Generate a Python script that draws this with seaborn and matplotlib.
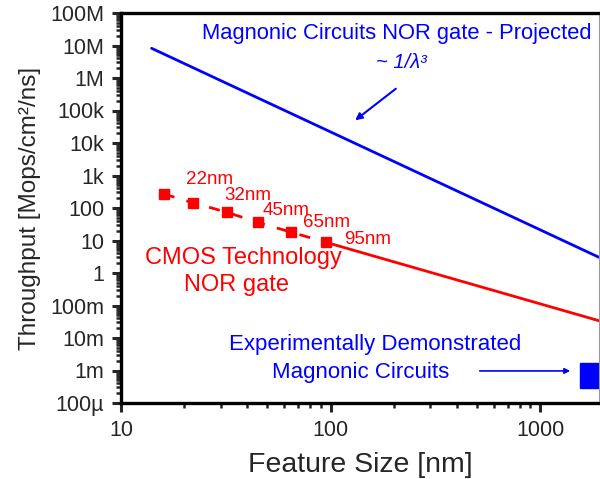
"""
    Throughput vs feature size: magnonic NOR gate (projected) vs CMOS NOR gate
"""
import numpy as np
import pandas as pd
import seaborn as sns
import matplotlib.pyplot as plt
from matplotlib.ticker import LogLocator, FixedLocator, FuncFormatter, NullFormatter

# Magnonic circuits NOR gate - projected (~1/lambda^3)
proj_x = [14.0, 1912]
proj_y = [8.2e6, 3.04]

# CMOS NOR gate, technology nodes
cmos_x = [16, 22, 32, 45, 65, 95]
cmos_y = [270, 146, 74, 36, 18, 8.8]
cmos_labels = ['', '22nm', '32nm', '45nm', '65nm', '95nm']

# CMOS trend beyond 95nm
trend_x = [95, 1912]
trend_y = [8.8, 0.034]

# experimentally demonstrated magnonic circuits
exp_x = [1762]
exp_y = [7.5e-4]

y_ticklabels = {-4: '100µ', -3: '1m', -2: '10m', -1: '100m', 0: '1', 1: '10', 2: '100',
                3: '1k', 4: '10k', 5: '100k', 6: '1M', 7: '10M', 8: '100M'}

blue = '#0000ff'
red = '#ff0000'

sns.set_style('ticks')
plt.rcParams['font.family'] = ['Liberation Sans', 'DejaVu Sans']

fig = plt.figure(figsize=(6, 4.79), dpi=100)
ax = fig.add_axes([121 / 600, 1 - 403 / 479, 478 / 600, 390 / 479])

proj = pd.DataFrame({'x': proj_x, 'y': proj_y})
cmos = pd.DataFrame({'x': cmos_x, 'y': cmos_y})
trend = pd.DataFrame({'x': trend_x, 'y': trend_y})
exp = pd.DataFrame({'x': exp_x, 'y': exp_y})

sns.lineplot(data=proj, x='x', y='y', color=blue, lw=2, ax=ax)
sns.lineplot(data=trend, x='x', y='y', color=red, lw=2, ax=ax)
ax.plot(cmos['x'], cmos['y'], color=red, lw=2, dashes=(4, 4.5), marker='s', ms=6.5,
        mec=red, mfc=red)
ax.plot(exp['x'], exp['y'], ls='none', marker='s', ms=18, color=blue, clip_on=True)

ax.set_xscale('log')
ax.set_yscale('log')
ax.set_xlim(10, 1912)
ax.set_ylim(1e-4, 1e8)

ax.yaxis.set_major_locator(FixedLocator([10.0 ** e for e in range(-4, 9)]))
ax.yaxis.set_major_formatter(FuncFormatter(lambda v, p: y_ticklabels.get(int(round(np.log10(v))), '')))
ax.yaxis.set_minor_locator(LogLocator(base=10, subs=np.arange(2, 10), numticks=50))
ax.yaxis.set_minor_formatter(NullFormatter())
ax.xaxis.set_major_locator(FixedLocator([10, 100, 1000]))
ax.xaxis.set_major_formatter(FuncFormatter(lambda v, p: f'{int(v)}'))
ax.xaxis.set_minor_locator(LogLocator(base=10, subs=np.arange(2, 10), numticks=50))
ax.xaxis.set_minor_formatter(NullFormatter())

ax.tick_params(which='major', direction='out', length=6.5, width=2.2, labelsize=15.5)
ax.tick_params(axis='y', which='major', pad=5.5)
ax.tick_params(axis='x', which='major', pad=6)
ax.tick_params(which='minor', direction='out', length=3.5, width=1.8)
for side in ['left', 'bottom', 'top']:
    ax.spines[side].set_linewidth(2.4)
    ax.spines[side].set_color('black')
ax.spines['right'].set_linewidth(0.8)
ax.spines['right'].set_color('#999999')

ax.set_xlabel('Feature Size [nm]', fontsize=20.5, labelpad=8)
ax.set_ylabel('Throughput [Mops/cm²/ns]', fontsize=17.5, labelpad=7)

# annotations
ax.text(207, 2.26e7, 'Magnonic Circuits NOR gate - Projected', color=blue, fontsize=15.8,
        ha='center', va='center')
ax.text(219, 2.9e6, '~ 1/λ³', color=blue, fontsize=14.5, style='italic', ha='center', va='center')
ax.annotate('', xy=(128, 4.43e4), xytext=(210, 5.28e5),
            arrowprops=dict(arrowstyle='-|>', color=blue, lw=1.5, mutation_scale=10))

label_pos = {'22nm': (26.6, 728), '32nm': (40.4, 251), '45nm': (61.7, 86.7),
             '65nm': (95.7, 37), '95nm': (151, 11.1)}
for lab in cmos_labels:
    if lab:
        ax.text(*label_pos[lab], lab, color=red, fontsize=13.5, ha='center', va='center')

ax.text(38.6, 2.89, 'CMOS Technology', color=red, fontsize=17, ha='center', va='center')
ax.text(35.6, 0.428, 'NOR gate', color=red, fontsize=17, ha='center', va='center')

ax.text(163, 6.1e-3, 'Experimentally Demonstrated', color=blue, fontsize=16,
        ha='center', va='center')
ax.text(139, 8.4e-4, 'Magnonic Circuits', color=blue, fontsize=16, ha='center', va='center')
ax.annotate('', xy=(1437, 9.7e-4), xytext=(500, 9.7e-4),
            arrowprops=dict(arrowstyle='-|>', color=blue, lw=1.2, mutation_scale=8))

fig.savefig('out.png', dpi=100)
